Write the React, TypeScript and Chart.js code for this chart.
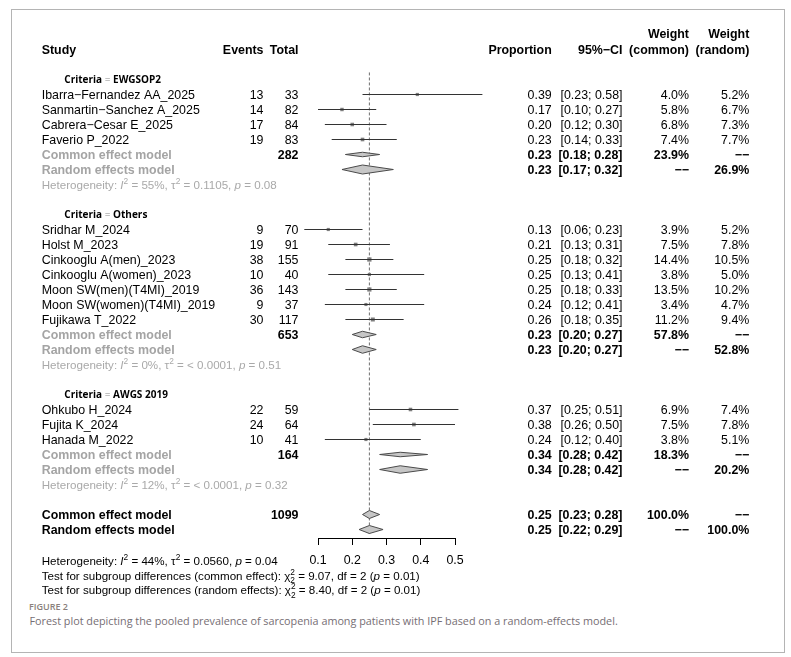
import React, { useEffect, useRef } from "react";
import { Chart, registerables } from "chart.js";
Chart.register(...registerables);

// ---------------- data ----------------
const groupLabels = ["EWGSOP2", "Others", "AWGS 2019"];
const studyNames = [
  "Ibarra−Fernandez AA_2025",
  "Sanmartin−Sanchez A_2025",
  "Cabrera−Cesar E_2025",
  "Faverio P_2022",
  "Sridhar M_2024",
  "Holst M_2023",
  "Cinkooglu A(men)_2023",
  "Cinkooglu A(women)_2023",
  "Moon SW(men)(T4MI)_2019",
  "Moon SW(women)(T4MI)_2019",
  "Fujikawa T_2022",
  "Ohkubo H_2024",
  "Fujita K_2024",
  "Hanada M_2022",
];
const studyGroup = [0, 0, 0, 0, 1, 1, 1, 1, 1, 1, 1, 2, 2, 2];
const events = [13, 14, 17, 19, 9, 19, 38, 10, 36, 9, 30, 22, 24, 10];
const totals = [33, 82, 84, 83, 70, 91, 155, 40, 143, 37, 117, 59, 64, 41];
const proportions = [0.39, 0.17, 0.2, 0.23, 0.13, 0.21, 0.25, 0.25, 0.25, 0.24, 0.26, 0.37, 0.38, 0.24];
const ciLower = [0.23, 0.1, 0.12, 0.14, 0.06, 0.13, 0.18, 0.13, 0.18, 0.12, 0.18, 0.25, 0.26, 0.12];
const ciUpper = [0.58, 0.27, 0.3, 0.33, 0.23, 0.31, 0.32, 0.41, 0.33, 0.41, 0.35, 0.51, 0.5, 0.4];
const weightCommon = [4.0, 5.8, 6.8, 7.4, 3.9, 7.5, 14.4, 3.8, 13.5, 3.4, 11.2, 6.9, 7.5, 3.8];
const weightRandom = [5.2, 6.7, 7.3, 7.7, 5.2, 7.8, 10.5, 5.0, 10.2, 4.7, 9.4, 7.4, 7.8, 5.1];

const groupTotals = [282, 653, 164];
const groupCommonEst = [0.23, 0.23, 0.34];
const groupCommonLower = [0.18, 0.2, 0.28];
const groupCommonUpper = [0.28, 0.27, 0.42];
const groupCommonWeight = [23.9, 57.8, 18.3];
const groupRandomEst = [0.23, 0.23, 0.34];
const groupRandomLower = [0.17, 0.2, 0.28];
const groupRandomUpper = [0.32, 0.27, 0.42];
const groupRandomWeight = [26.9, 52.8, 20.2];
const groupI2 = ["55%", "0%", "12%"];
const groupTau2 = ["0.1105", "< 0.0001", "< 0.0001"];
const groupHetP = ["0.08", "0.51", "0.32"];

const overallTotal = 1099;
const overallCommon = [0.25, 0.23, 0.28];
const overallRandom = [0.25, 0.22, 0.29];
const overallI2 = "44%";
const overallTau2 = "0.0560";
const overallHetP = "0.04";
const subgroupChi2 = ["9.07", "8.40"];
const subgroupDf = "2";
const subgroupP = ["0.01", "0.01"];

const xTicks = { min: 0.1, max: 0.5, step: 0.1 };

// ---------------- layout / style ----------------
const W = 791;
const H = 600;
const FAMILY = "'Liberation Sans', Arial, Helvetica, sans-serif";
const FS = 12.4;
const FS_HET = 11.6;
const PLOT_LEFT = 318;
const PLOT_RIGHT = 455;
const TOP = 41;
const AXIS_Y = 538;
const AXIS_H = 30;
const ROW0 = 79.5;
const ROW_H = 15;
const Y_MIN = -(ROW0 - TOP) / ROW_H;
const Y_MAX = (AXIS_Y - ROW0) / ROW_H;

const COL_STUDY = 41.7;
const COL_CRIT = 64.3;
const COL_EVENTS = 263.5;
const COL_TOTAL = 298.5;
const COL_PROP = 551.7;
const COL_CI = 622.5;
const COL_WC = 689;
const COL_WR = 749.3;
const GREY_LABEL = "#a4a4a4";
const GREY_HET = "#a9a9a9";
const DIAMOND_H_COMMON = [4.5, 6.5, 4.5];
const DIAMOND_H_RANDOM = [9, 7.5, 7.5];
const DIAMOND_H_OVERALL = 8;

// ---------------- rows ----------------
type Row = { kind: string; idx: number; row: number };
function buildRows(): Row[] {
  const rows: Row[] = [];
  let r = 0;
  groupLabels.forEach((_, gi) => {
    rows.push({ kind: "group", idx: gi, row: r++ });
    studyGroup.forEach((sg, si) => {
      if (sg === gi) rows.push({ kind: "study", idx: si, row: r++ });
    });
    rows.push({ kind: "common", idx: gi, row: r++ });
    rows.push({ kind: "random", idx: gi, row: r++ });
    rows.push({ kind: "het", idx: gi, row: r++ });
    r++;
  });
  rows.push({ kind: "oCommon", idx: 0, row: r++ });
  rows.push({ kind: "oRandom", idx: 0, row: r++ });
  return rows;
}
const ROWS = buildRows();

type Seg = { t?: string; i?: boolean; b?: boolean; sup?: string; sub?: string; c?: string };
type RichOpt = { size: number; bold?: boolean; color: string; align?: "left" | "right"; family?: string };

function drawRich(ctx: CanvasRenderingContext2D, segs: Seg[], x: number, y: number, opt: RichOpt) {
  const fam = opt.family ?? FAMILY;
  const f = (sz: number, b?: boolean, i?: boolean) => `${i ? "italic " : ""}${b ? "bold " : ""}${sz}px ${fam}`;
  const scr = opt.size * 0.72;
  const widths = segs.map((s) => {
    if (s.t !== undefined) {
      ctx.font = f(opt.size, s.b ?? opt.bold, s.i);
      return ctx.measureText(s.t).width;
    }
    ctx.font = f(scr, opt.bold, false);
    return Math.max(s.sup ? ctx.measureText(s.sup).width : 0, s.sub ? ctx.measureText(s.sub).width : 0);
  });
  const total = widths.reduce((a, b) => a + b, 0);
  let cx = opt.align === "right" ? x - total : x;
  const base = y + opt.size * 0.355;
  ctx.textAlign = "left";
  ctx.textBaseline = "alphabetic";
  segs.forEach((s, k) => {
    ctx.fillStyle = s.c ?? opt.color;
    if (s.t !== undefined) {
      ctx.font = f(opt.size, s.b ?? opt.bold, s.i);
      ctx.fillText(s.t, cx, base);
    } else {
      ctx.font = f(scr, opt.bold, false);
      if (s.sup) ctx.fillText(s.sup, cx, base - opt.size * 0.4);
      if (s.sub) ctx.fillText(s.sub, cx, base + opt.size * 0.3);
    }
    cx += widths[k];
  });
}

const pct = (v: number) => v.toFixed(1) + "%";
const ci = (lo: number, hi: number) => `[${lo.toFixed(2)}; ${hi.toFixed(2)}]`;
const DASH = "−−";

function hetSegs(i2: string, tau2: string, p: string): Seg[] {
  return [
    { t: "Heterogeneity: " },
    { t: "I", i: true },
    { sup: "2" },
    { t: ` = ${i2}, τ` },
    { sup: "2" },
    { t: ` = ${tau2}, ` },
    { t: "p", i: true },
    { t: ` = ${p}` },
  ];
}

const textPlugin = {
  id: "forestText",
  afterDraw(chart: any) {
    const ctx: CanvasRenderingContext2D = chart.ctx;
    const y = chart.scales.y;
    const py = (r: number) => y.getPixelForValue(r);
    ctx.save();
    const T = (text: string, x: number, yy: number, o: Partial<RichOpt> = {}) =>
      drawRich(ctx, [{ t: text }], x, yy, { size: FS, color: "#000", ...o });

    // headers
    const hy = py(-2);
    const hy2 = py(-3.07);
    T("Study", COL_STUDY, hy, { bold: true });
    T("Events", COL_EVENTS, hy, { bold: true, align: "right" });
    T("Total", COL_TOTAL, hy, { bold: true, align: "right" });
    T("Proportion", COL_PROP, hy, { bold: true, align: "right" });
    T("95%−CI", COL_CI, hy, { bold: true, align: "right" });
    T("Weight", COL_WC, hy2, { bold: true, align: "right" });
    T("(common)", COL_WC, hy, { bold: true, align: "right" });
    T("Weight", COL_WR, hy2, { bold: true, align: "right" });
    T("(random)", COL_WR, hy, { bold: true, align: "right" });

    ROWS.forEach((r) => {
      const yy = py(r.row);
      const i = r.idx;
      if (r.kind === "group") {
        drawRich(
          ctx,
          [{ t: "Criteria", b: true }, { t: " = ", c: "#8a8a8a" }, { t: groupLabels[i], b: true }],
          COL_CRIT,
          yy,
          { size: 10, color: "#000", family: "'Open Sans', 'Noto Sans', sans-serif" }
        );
      } else if (r.kind === "study") {
        T(studyNames[i], COL_STUDY, yy);
        T(String(events[i]), COL_EVENTS, yy, { align: "right" });
        T(String(totals[i]), COL_TOTAL, yy, { align: "right" });
        T(proportions[i].toFixed(2), COL_PROP, yy, { align: "right" });
        T(ci(ciLower[i], ciUpper[i]), COL_CI, yy, { align: "right" });
        T(pct(weightCommon[i]), COL_WC, yy, { align: "right" });
        T(pct(weightRandom[i]), COL_WR, yy, { align: "right" });
      } else if (r.kind === "common" || r.kind === "oCommon") {
        const g = r.kind === "common";
        T("Common effect model", COL_STUDY, yy, { bold: true, color: g ? GREY_LABEL : "#000" });
        T(String(g ? groupTotals[i] : overallTotal), COL_TOTAL, yy, { bold: true, align: "right" });
        const est = g ? groupCommonEst[i] : overallCommon[0];
        const lo = g ? groupCommonLower[i] : overallCommon[1];
        const hi = g ? groupCommonUpper[i] : overallCommon[2];
        T(est.toFixed(2), COL_PROP, yy, { bold: true, align: "right" });
        T(ci(lo, hi), COL_CI, yy, { bold: true, align: "right" });
        T(pct(g ? groupCommonWeight[i] : 100), COL_WC, yy, { bold: true, align: "right" });
        T(DASH, COL_WR, yy, { bold: true, align: "right" });
      } else if (r.kind === "random" || r.kind === "oRandom") {
        const g = r.kind === "random";
        T("Random effects model", COL_STUDY, yy, { bold: true, color: g ? GREY_LABEL : "#000" });
        const est = g ? groupRandomEst[i] : overallRandom[0];
        const lo = g ? groupRandomLower[i] : overallRandom[1];
        const hi = g ? groupRandomUpper[i] : overallRandom[2];
        T(est.toFixed(2), COL_PROP, yy, { bold: true, align: "right" });
        T(ci(lo, hi), COL_CI, yy, { bold: true, align: "right" });
        T(DASH, COL_WC, yy, { bold: true, align: "right" });
        T(pct(g ? groupRandomWeight[i] : 100), COL_WR, yy, { bold: true, align: "right" });
      } else if (r.kind === "het") {
        drawRich(ctx, hetSegs(groupI2[i], groupTau2[i], groupHetP[i]), COL_STUDY, yy, {
          size: FS_HET,
          color: GREY_HET,
        });
      }
    });

    // bottom statistics
    drawRich(ctx, hetSegs(overallI2, overallTau2, overallHetP), COL_STUDY, py(32.1), { size: FS_HET, color: "#000" });
    const labels = ["common effect", "random effects"];
    labels.forEach((lab, k) => {
      drawRich(
        ctx,
        [
          { t: `Test for subgroup differences (${lab}): χ` },
          { sup: "2", sub: subgroupDf },
          { t: ` = ${subgroupChi2[k]}, df = ${subgroupDf} (` },
          { t: "p", i: true },
          { t: ` = ${subgroupP[k]})` },
        ],
        COL_STUDY,
        py(33.07 + k * 0.96),
        { size: FS_HET, color: "#000" }
      );
    });
    ctx.restore();
  },
};

type Diamond = { row: number; est: number; lo: number; hi: number; h: number };
function buildDiamonds(): Diamond[] {
  const out: Diamond[] = [];
  ROWS.forEach((r) => {
    const i = r.idx;
    if (r.kind === "common")
      out.push({ row: r.row, est: groupCommonEst[i], lo: groupCommonLower[i], hi: groupCommonUpper[i], h: DIAMOND_H_COMMON[i] });
    if (r.kind === "random")
      out.push({ row: r.row, est: groupRandomEst[i], lo: groupRandomLower[i], hi: groupRandomUpper[i], h: DIAMOND_H_RANDOM[i] });
    if (r.kind === "oCommon")
      out.push({ row: r.row, est: overallCommon[0], lo: overallCommon[1], hi: overallCommon[2], h: DIAMOND_H_OVERALL });
    if (r.kind === "oRandom")
      out.push({ row: r.row, est: overallRandom[0], lo: overallRandom[1], hi: overallRandom[2], h: DIAMOND_H_OVERALL });
  });
  return out;
}

const diamondPlugin = {
  id: "diamonds",
  afterDatasetsDraw(chart: any) {
    const ctx: CanvasRenderingContext2D = chart.ctx;
    const { x, y } = chart.scales;
    ctx.save();
    buildDiamonds().forEach((d) => {
      const yc = y.getPixelForValue(d.row);
      ctx.beginPath();
      ctx.moveTo(x.getPixelForValue(d.lo), yc);
      ctx.lineTo(x.getPixelForValue(d.est), yc - d.h / 2);
      ctx.lineTo(x.getPixelForValue(d.hi), yc);
      ctx.lineTo(x.getPixelForValue(d.est), yc + d.h / 2);
      ctx.closePath();
      ctx.fillStyle = "#c6c6c6";
      ctx.fill();
      ctx.lineWidth = 1;
      ctx.strokeStyle = "#4a4a4a";
      ctx.stroke();
    });
    ctx.restore();
  },
};

export default function App() {
  const ref = useRef<HTMLCanvasElement>(null);
  useEffect(() => {
    const studyRows = ROWS.filter((r) => r.kind === "study");
    const ciData: { x: number; y: number }[] = [];
    studyRows.forEach((r) => {
      ciData.push({ x: ciLower[r.idx], y: r.row });
      ciData.push({ x: ciUpper[r.idx], y: r.row });
      ciData.push({ x: NaN, y: NaN });
    });
    const sqData = studyRows.map((r) => ({ x: proportions[r.idx], y: r.row }));
    const sqRadius = studyRows.map((r) => (2 + 0.6 * Math.sqrt(weightCommon[r.idx])) / Math.SQRT2);
    const lastRow = ROWS[ROWS.length - 1].row;

    const chart = new Chart(ref.current as HTMLCanvasElement, {
      type: "line",
      data: {
        datasets: [
          {
            data: ciData,
            borderColor: "#333333",
            borderWidth: 1,
            pointRadius: 0,
            spanGaps: false,
            clip: false,
          } as any,
          {
            type: "scatter",
            data: sqData,
            pointStyle: "rect",
            pointRadius: sqRadius,
            backgroundColor: "#7e7e7e",
            borderColor: "#7e7e7e",
            borderWidth: 0,
            clip: false,
          } as any,
          {
            data: [
              { x: overallRandom[0], y: -0.47 },
              { x: overallRandom[0], y: lastRow + 0.3 },
            ],
            borderColor: "#6e6e6e",
            borderWidth: 1,
            borderDash: [3, 2],
            pointRadius: 0,
            clip: false,
          } as any,
        ],
      },
      options: {
        responsive: false,
        animation: false,
        events: [],
        layout: { padding: { left: PLOT_LEFT, right: W - PLOT_RIGHT, top: TOP, bottom: H - AXIS_Y - AXIS_H } },
        plugins: { legend: { display: false }, tooltip: { enabled: false } },
        scales: {
          x: {
            type: "linear",
            position: "bottom",
            min: xTicks.min,
            max: xTicks.max,
            afterFit: (s: any) => {
              s.height = AXIS_H;
            },
            grid: { drawOnChartArea: false, drawTicks: true, tickLength: 7, color: "#000", lineWidth: 1 },
            border: { display: true, color: "#000", width: 1 },
            ticks: {
              stepSize: xTicks.step,
              padding: 8,
              color: "#000",
              autoSkip: false,
              maxRotation: 0,
              font: { family: FAMILY, size: FS },
              callback: (v: any) => Number(v).toFixed(1),
            },
          },
          y: { type: "linear", reverse: true, min: Y_MIN, max: Y_MAX, display: false },
        },
      },
      plugins: [diamondPlugin, textPlugin],
    } as any);
    return () => chart.destroy();
  }, []);

  return (
    <div>
      <div
        style={{
          position: "absolute",
          left: 11,
          top: 9,
          width: 772,
          height: 642,
          border: "1px solid #b4b4b4",
        }}
      />
      <canvas ref={ref} width={W} height={H} style={{ position: "absolute", left: 0, top: 0 }} />
      <div
        style={{
          position: "absolute",
          left: 29,
          top: 600,
          fontFamily: "'Open Sans', sans-serif",
          fontWeight: 600,
          fontSize: 9,
          lineHeight: "13px",
          color: "#8a807c",
          whiteSpace: "nowrap",
        }}
      >
        FIGURE 2
      </div>
      <div
        style={{
          position: "absolute",
          left: 29.5,
          top: 613,
          fontFamily: "'Open Sans', sans-serif",
          fontSize: 10.8,
          lineHeight: "15px",
          color: "#766e74",
          whiteSpace: "nowrap",
        }}
      >
        Forest plot depicting the pooled prevalence of sarcopenia among patients with IPF based on a random-effects model.
      </div>
    </div>
  );
}
